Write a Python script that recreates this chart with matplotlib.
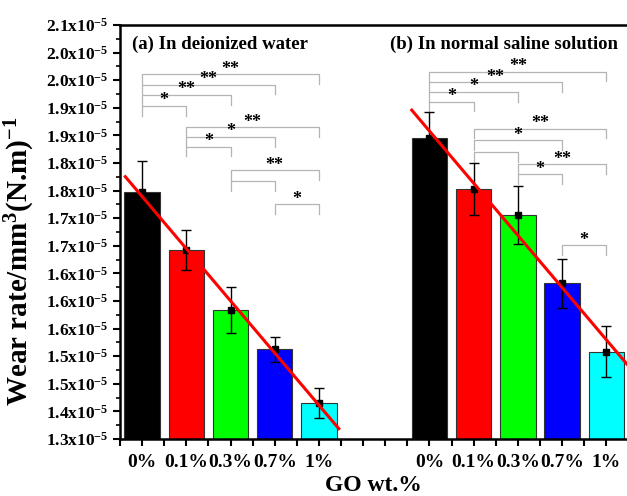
import numpy as np
import matplotlib
matplotlib.use('Agg')
import matplotlib.pyplot as plt

plt.rcParams['font.family'] = 'Liberation Serif'
plt.rcParams['font.weight'] = 'bold'
plt.rcParams['mathtext.fontset'] = 'custom'
plt.rcParams['mathtext.rm'] = 'Liberation Serif:bold'
plt.rcParams['mathtext.bf'] = 'Liberation Serif:bold'
plt.rcParams['mathtext.it'] = 'Liberation Serif:bold:italic'

# data (units of 1e-5 mm^3/(N.m))
categories = ['0%', '0.1%', '0.3%', '0.7%', '1%']
colors = ['#000000', '#ff0000', '#00ff00', '#0000ff', '#00ffff']
water_mean = [1.778, 1.665, 1.549, 1.473, 1.370]
water_err = [0.060, 0.038, 0.045, 0.025, 0.029]
saline_mean = [1.882, 1.783, 1.733, 1.601, 1.469]
saline_err = [0.050, 0.050, 0.056, 0.047, 0.050]

# significance brackets: (from index, to index, height, stars)
water_sig = [(0, 4, 2.005, '**'), (0, 3, 1.985, '**'), (0, 2, 1.965, '**'), (0, 1, 1.944, '*'),
             (1, 4, 1.903, '**'), (1, 3, 1.884, '*'), (1, 2, 1.865, '*'),
             (2, 4, 1.820, '**'), (2, 3, 1.799, ''),
             (3, 4, 1.754, '*')]
saline_sig = [(0, 4, 2.010, '**'), (0, 3, 1.990, '**'), (0, 2, 1.971, '*'), (0, 1, 1.952, '*'),
              (1, 4, 1.900, '**'), (1, 3, 1.878, '*'), (1, 2, 1.854, ''),
              (2, 4, 1.831, '**'), (2, 3, 1.812, '*'),
              (3, 4, 1.674, '*')]

ytick_vals = np.linspace(1.3, 2.1, 16)
ytick_labels = ['1.3', '1.4', '1.5', '1.5', '1.6', '1.6', '1.6', '1.7',
                '1.7', '1.8', '1.8', '1.9', '1.9', '2.0', '2.0', '2.1']

fig = plt.figure(figsize=(6.27, 4.96), dpi=100)
ax = fig.add_axes([0.1914, 0.1149, 0.8086, 0.8347])

x_water = np.arange(1, 6, dtype=float)
x_saline = x_water + 6.5


def draw_group(xs, mean, err, sig, fit_range):
    ax.bar(xs, np.array(mean) - 1.3, bottom=1.3, width=0.8, color=colors,
           edgecolor='#333333', linewidth=0.8, zorder=2)
    ax.errorbar(xs, mean, yerr=err, fmt='s', color='black', markersize=5,
                capsize=3.5, elinewidth=1, capthick=1, zorder=4)
    k, b = np.polyfit(xs, mean, 1)
    fx = np.array(fit_range)
    ax.plot(fx, k * fx + b, color='#ff0000', lw=2.2, zorder=5)
    leg = 0.019
    for i, j, h, s in sig:
        x0, x1 = xs[i], xs[j]
        ax.plot([x0, x0, x1, x1], [h - leg, h, h, h - leg], color='#b4b4b4', lw=0.9, zorder=1)
        if s:
            ax.text((x0 + x1) / 2, h - 0.007, s, ha='center', va='bottom', fontsize=13)


draw_group(x_water, water_mean, water_err, water_sig, [0.62, 5.45])
draw_group(x_saline, saline_mean, saline_err, saline_sig, [7.1, 12.2])

ax.text(0.77, 2.063, '(a) In deionized water', fontsize=13.5, fontweight='bold', va='center')
ax.text(6.61, 2.063, '(b) In normal saline solution', fontsize=13.5, fontweight='bold', va='center')

ax.set_xlim(0.5, 11.97)
ax.set_ylim(1.3, 2.1)

xt = np.arange(0.5, 12.0, 0.5)
xl = []
for v in xt:
    if v in x_water:
        xl.append(categories[int(v) - 1])
    elif v in x_saline:
        xl.append(categories[int(v - 7.5)])
    else:
        xl.append('')
ax.set_xticks(xt)
ax.set_xticklabels(xl, fontsize=14, fontweight='bold')

ax.set_yticks(ytick_vals)
ax.set_yticklabels([r'$\mathbf{%sx10^{-5}}$' % s for s in ytick_labels], fontsize=12.5)
ax.set_yticks((ytick_vals[:-1] + ytick_vals[1:]) / 2, minor=True)

ax.tick_params(axis='both', which='major', direction='out', length=5, width=1.5)
ax.tick_params(axis='y', which='minor', direction='out', length=3, width=1.2)
ax.tick_params(axis='x', pad=6)

for sp in ['left', 'top', 'bottom']:
    ax.spines[sp].set_linewidth(1.8)
ax.spines['right'].set_visible(False)

ax.set_xlabel('GO wt.%', fontsize=17, fontweight='bold', labelpad=3)
ax.set_ylabel(r'Wear rate/mm$^{\mathbf{3}}$(N.m)$^{\mathbf{-1}}$', fontsize=21, fontweight='bold')
ax.yaxis.set_label_coords(-0.163, 0.43)

fig.savefig('out.png', dpi=100)
